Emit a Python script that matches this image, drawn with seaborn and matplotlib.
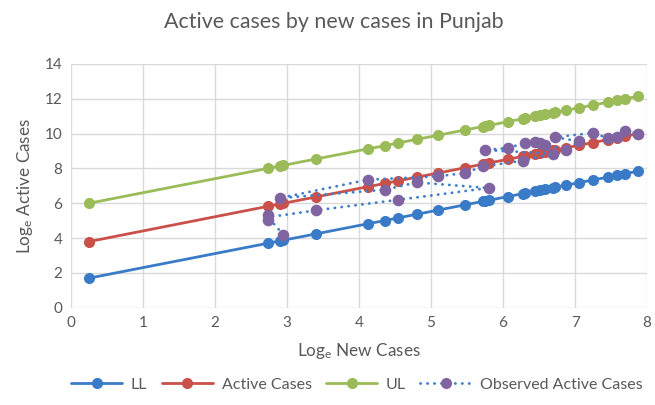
import matplotlib
matplotlib.use("Agg")
import matplotlib.pyplot as plt
from matplotlib.lines import Line2D
import seaborn as sns
import pandas as pd

# ---- data ----
model_x = [0.25, 2.74, 2.90, 2.95, 3.41, 4.13, 4.36, 4.54, 4.80, 5.10, 5.47, 5.72, 5.75, 5.80,
           6.07, 6.28, 6.30, 6.44, 6.51, 6.58, 6.70, 6.72, 6.88, 7.05, 7.25, 7.45, 7.58, 7.69, 7.88]
ll = [1.70, 3.71, 3.84, 3.88, 4.25, 4.83, 5.01, 5.16, 5.37, 5.61, 5.91, 6.11, 6.13, 6.17,
      6.39, 6.56, 6.58, 6.69, 6.75, 6.80, 6.90, 6.92, 7.05, 7.18, 7.34, 7.50, 7.61, 7.70, 7.85]
active = [3.80, 5.83, 5.96, 6.00, 6.37, 6.96, 7.14, 7.29, 7.50, 7.74, 8.04, 8.25, 8.27, 8.31,
          8.53, 8.70, 8.72, 8.83, 8.89, 8.95, 9.04, 9.06, 9.19, 9.33, 9.49, 9.65, 9.76, 9.85, 10.00]
ul = [6.00, 8.01, 8.14, 8.18, 8.55, 9.13, 9.31, 9.46, 9.67, 9.91, 10.21, 10.41, 10.43, 10.47,
      10.69, 10.86, 10.88, 10.99, 11.05, 11.10, 11.20, 11.22, 11.35, 11.48, 11.64, 11.80, 11.91, 12.00, 12.15]

obs_x = [2.95, 2.74, 2.74, 3.41, 4.54, 5.80, 4.80, 4.36, 2.90, 4.13, 5.10, 5.47, 5.72, 6.28,
         6.70, 5.75, 6.07, 6.30, 6.44, 6.51, 6.58, 6.88, 7.05, 6.72, 7.25, 7.45, 7.58, 7.69, 7.88]
obs_y = [4.20, 5.06, 5.34, 5.60, 6.20, 6.88, 7.20, 6.78, 6.30, 7.36, 7.55, 7.74, 8.12, 8.45,
         8.85, 9.06, 9.18, 9.46, 9.50, 9.46, 9.37, 9.08, 9.56, 9.80, 10.04, 9.75, 9.80, 10.16, 10.00]

series_names = ["LL", "Active Cases", "UL", "Observed Active Cases"]
title = "Active cases by new cases in Punjab"
x_ticks = [0, 1, 2, 3, 4, 5, 6, 7, 8]
y_ticks = [0, 2, 4, 6, 8, 10, 12, 14]

# ---- style ----
sns.set_style("white")
plt.rcParams["font.family"] = ["Lato", "DejaVu Sans"]
plt.rcParams["mathtext.fontset"] = "custom"
plt.rcParams["mathtext.rm"] = "Lato"
plt.rcParams["mathtext.it"] = "Lato"

C_LL = "#3a7bc8"
C_ACT = "#c9514a"
C_UL = "#9bbb59"
C_OBS_LINE = "#3f7fcc"
C_OBS_MK = "#8064a2"
TXT = "#595959"
GRID = "#d9d9d9"

fig = plt.figure(figsize=(6.55, 4.05), dpi=100)
ax = fig.add_axes([0.108, 0.240, 0.880, 0.602])

df = pd.DataFrame({"x": model_x, "LL": ll, "Active": active, "UL": ul})
lw = 2.0
ms = 8.0
for col, c in [("LL", C_LL), ("Active", C_ACT), ("UL", C_UL)]:
    sns.lineplot(data=df, x="x", y=col, ax=ax, color=c, linewidth=lw, marker="o",
                 markersize=ms, markeredgewidth=0, sort=True, zorder=3)

dfo = pd.DataFrame({"x": obs_x, "y": obs_y})
sns.lineplot(data=dfo, x="x", y="y", ax=ax, sort=False, color=C_OBS_LINE, linewidth=2.0,
             linestyle=(0, (0.1, 2.4)), dash_capstyle="round", zorder=4)
sns.scatterplot(data=dfo, x="x", y="y", ax=ax, color=C_OBS_MK, s=70, linewidth=0, zorder=5)

ax.set_xlim(0, 8)
ax.set_ylim(0, 14)
ax.set_xticks(x_ticks)
ax.set_yticks(y_ticks)
ax.grid(True, color=GRID, linewidth=1.0)
ax.set_axisbelow(True)
for s in ax.spines.values():
    s.set_visible(False)
ax.tick_params(axis="both", length=0, labelsize=11, labelcolor=TXT, pad=6)

ax.set_xlabel(r"Log$_\mathrm{e}$ New Cases", fontsize=12.3, color=TXT, labelpad=8)
ax.set_ylabel(r"Log$_\mathrm{e}$ Active Cases", fontsize=12.3, color=TXT, labelpad=7)
fig.text(0.51, 0.946, title, ha="center", va="center", fontsize=15.4, color=TXT)

handles = [
    Line2D([], [], color=C_LL, lw=lw, marker="o", markersize=ms, markeredgewidth=0),
    Line2D([], [], color=C_ACT, lw=lw, marker="o", markersize=ms, markeredgewidth=0),
    Line2D([], [], color=C_UL, lw=lw, marker="o", markersize=ms, markeredgewidth=0),
    Line2D([], [], color=C_OBS_LINE, lw=2.0, linestyle=(0, (0.1, 2.4)), dash_capstyle="round",
           marker="o", markersize=ms, markerfacecolor=C_OBS_MK, markeredgewidth=0),
]
fig.legend(handles, series_names, loc="center", bbox_to_anchor=(0.545, 0.05), ncol=4,
           frameon=False, fontsize=11.5, labelcolor=TXT, handlelength=3.2,
           columnspacing=0.9, handletextpad=0.55)

fig.savefig("out.png", dpi=100)
